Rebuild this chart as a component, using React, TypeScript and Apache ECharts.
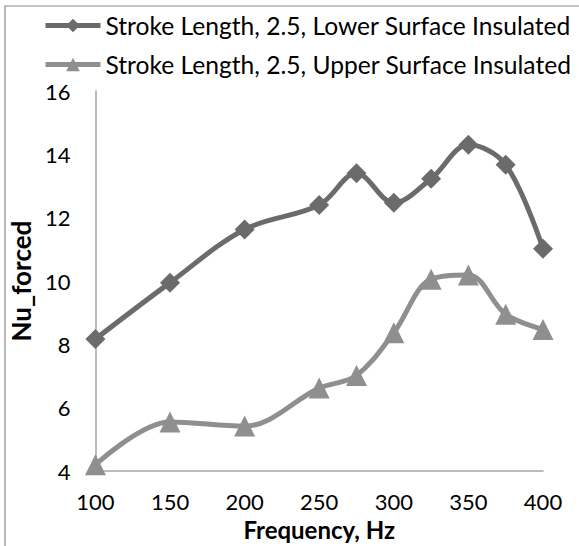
import React, { useEffect, useRef } from "react";
import * as echarts from "echarts";

const frequencies = [100, 150, 200, 250, 275, 300, 325, 350, 375, 400];
const lowerInsulated = [8.17, 9.95, 11.63, 12.4, 13.4, 12.47, 13.23, 14.3, 13.67, 11.02];
const upperInsulated = [4.2, 5.55, 5.42, 6.62, 7.02, 8.37, 10.06, 10.19, 8.95, 8.47];
const seriesNames = [
  "Stroke Length, 2.5, Lower Surface Insulated",
  "Stroke Length, 2.5, Upper Surface Insulated",
];
const xTicks = { min: 100, max: 400, interval: 50 };
const yTicks = { min: 4, max: 16, interval: 2 };

const FONT = "Lato, 'Open Sans', sans-serif";

export default function App() {
  const ref = useRef<HTMLDivElement>(null);
  useEffect(() => {
    if (!ref.current) return;
    const chart = echarts.init(ref.current, undefined, { renderer: "svg" });
    chart.setOption({
      animation: false,
      backgroundColor: "#ffffff",
      graphic: [
        {
          type: "rect",
          shape: { x: 5, y: 6, width: 590, height: 560 },
          style: { fill: "none", stroke: "#8c8c8c", lineWidth: 1.2 },
          silent: true,
        },
      ],
      legend: {
        orient: "vertical",
        left: 38,
        top: 8,
        itemWidth: 55,
        itemHeight: 17,
        itemGap: 14,
        lineStyle: { width: 5 },
        textStyle: { fontFamily: FONT, fontSize: 24.6, color: "#000" },
        data: seriesNames,
      },
      grid: { left: 92, right: 36, top: 91, bottom: 69, containLabel: false },
      xAxis: {
        type: "value",
        min: xTicks.min,
        max: xTicks.max,
        interval: xTicks.interval,
        name: "Frequency, Hz",
        nameLocation: "middle",
        nameGap: 43,
        nameTextStyle: { fontFamily: FONT, fontSize: 24, fontWeight: "bold", color: "#000" },
        axisLine: { lineStyle: { color: "#a6a6a6", width: 1.5 } },
        axisTick: { show: false },
        splitLine: { show: false },
        axisLabel: { fontFamily: FONT, fontSize: 22, color: "#000", margin: 19 },
      },
      yAxis: {
        type: "value",
        min: yTicks.min,
        max: yTicks.max,
        interval: yTicks.interval,
        name: "Nu_forced",
        nameLocation: "middle",
        nameGap: 53,
        nameTextStyle: { fontFamily: FONT, fontSize: 26, fontWeight: "bold", color: "#000" },
        axisLine: { show: true, lineStyle: { color: "#a6a6a6", width: 1.5 } },
        axisTick: { show: false },
        splitLine: { show: false },
        axisLabel: { fontFamily: FONT, fontSize: 22, color: "#000", margin: 25 },
      },
      series: [
        {
          name: seriesNames[0],
          type: "line",
          smooth: 0.35,
          data: frequencies.map((f, i) => [f, lowerInsulated[i]]),
          symbol: "diamond",
          symbolSize: 20,
          lineStyle: { color: "#6b6b6b", width: 5 },
          itemStyle: { color: "#6b6b6b" },
          z: 3,
        },
        {
          name: seriesNames[1],
          type: "line",
          smooth: 0.35,
          data: frequencies.map((f, i) => [f, upperInsulated[i]]),
          symbol: "triangle",
          symbolSize: 21,
          lineStyle: { color: "#8f8f8f", width: 5 },
          itemStyle: { color: "#8f8f8f" },
          z: 2,
        },
      ],
    });
    return () => chart.dispose();
  }, []);
  return (
    <div
      ref={ref}
      style={{ position: "fixed", left: 0, top: 0, width: 579, height: 546 }}
    />
  );
}
